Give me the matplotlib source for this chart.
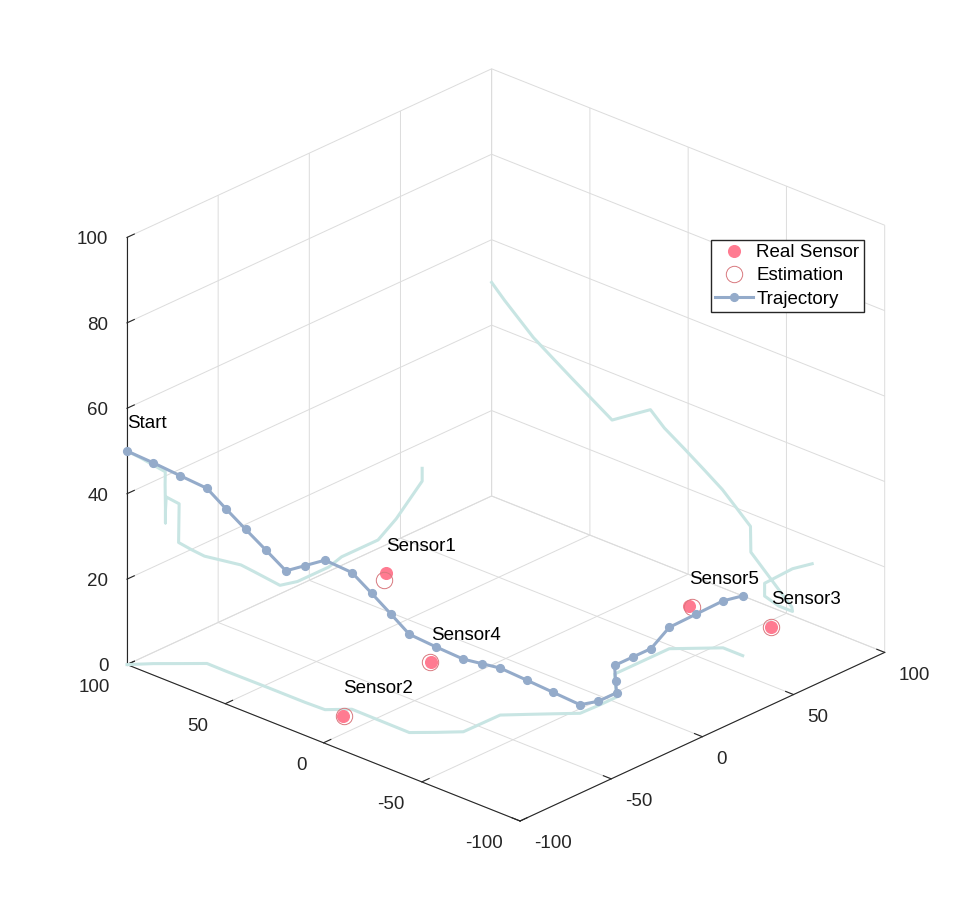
import numpy as np
import matplotlib
matplotlib.use("Agg")
import matplotlib.pyplot as plt
from mpl_toolkits.mplot3d import proj3d

# UAV trajectory
traj_x = [-100.0, -92.7, -85.9, -79.0, -79.1, -79.0, -78.9, -78.9, -78.9, -78.5,
          -71.4, -71.5, -71.6, -71.7, -64.8, -57.5, -47.5, -37.5, -30.3, -23.2,
          -16.1, -6.5, 3.5, 10.6, 17.7, 27.7, 37.7, 47.7, 54.8, 61.9, 61.9]
traj_y = [100.0, 93.4, 86.1, 78.8, 69.0, 59.1, 48.9, 38.7, 29.0, 19.2,
          12.1, 1.9, -7.9, -17.4, -24.6, -31.7, -31.8, -31.9, -38.8, -45.7,
          -52.7, -53.1, -53.1, -46.0, -38.9, -38.9, -38.9, -38.9, -46.0, -53.1, -63.1]
traj_z = [50, 47, 44, 41, 38, 35, 32, 29, 32, 35,
          32, 29, 26, 23, 20, 17, 14, 11, 8, 5,
          2, 1, 1, 1, 2, 2, 2, 5, 8, 11, 14]

sensor_names = ["Sensor1", "Sensor2", "Sensor3", "Sensor4", "Sensor5"]
real_x = [23.8, -78.2, 87.3, -21.5, 79.8]
real_y = [83.1, 10.4, -53.8, 18.1, -19.4]
real_z = [0, 0, 0, 0, 0]
est_x = [19.5, -78.0, 87.4, -21.3, 79.7]
est_y = [80.0, 10.0, -53.6, 18.6, -20.6]
est_z = [0, 0, 0, 0, 0]

xy_ticks = [-100, -50, 0, 50, 100]
z_ticks = [0, 20, 40, 60, 80, 100]

W, H = 977, 922
plt.rcParams.update({
    "font.family": ["Liberation Sans", "DejaVu Sans"],
    "font.size": 13.5,
    "axes.unicode_minus": False,
    "grid.color": "#dcdcdc",
    "grid.linewidth": 0.7,
    "axes.edgecolor": "#262626",
    "axes.linewidth": 0.8,
    "xtick.color": "#262626",
    "ytick.color": "#262626",
})

fig = plt.figure(figsize=(W / 100, H / 100), dpi=100)
ax = fig.add_axes([0.1, 0.08, 0.8, 0.8 * W / H], projection="3d", computed_zorder=False)
ax.set_proj_type("ortho")
ax.view_init(elev=25.4, azim=-137.15)
ax.set_box_aspect((1, 1, 0.882))

ax.set_xlim(-100, 100)
ax.set_ylim(-100, 100)
ax.set_zlim(0, 100)
ax.set_xticks(xy_ticks)
ax.set_yticks(xy_ticks)
ax.set_zticks(z_ticks)

for axis in (ax.xaxis, ax.yaxis, ax.zaxis):
    axis.set_pane_color((1, 1, 1, 0))
    axis._axinfo["tick"]["inward_factor"] = 0.0
    axis._axinfo["tick"]["outward_factor"] = 0.25
    axis.label.set_visible(False)
    axis.offsetText.set_visible(False)
ax.yaxis.set_tick_params(pad=7)
ax.zaxis.set_tick_params(pad=0)

shadow = "#c8e5e3"
tx, ty, tz = np.array(traj_x), np.array(traj_y), np.array(traj_z, float)
ax.plot(tx, np.full_like(tx, 100), tz, color=shadow, lw=2.2, zorder=1)
ax.plot(np.full_like(tx, 100), ty, tz, color=shadow, lw=2.2, zorder=1)
ax.plot(tx, ty, np.zeros_like(tz), color=shadow, lw=2.2, zorder=1)

ax.plot(real_x, real_y, real_z, ls="none", marker="o", ms=8.4,
        mfc="#ff7b91", mec="#ff7b91", label="Real Sensor", zorder=3)
ax.plot(est_x, est_y, est_z, ls="none", marker="o", ms=11.8,
        mfc="none", mec="#d8787e", mew=0.7, label="Estimation", zorder=3)
ax.plot(tx, ty, tz, "-o", color="#94abca", lw=2.2, ms=5.6, label="Trajectory", zorder=4)

ax.text(traj_x[0], traj_y[0], traj_z[0] + 6.4, "Start", ha="left", va="center", zorder=6)
for name, x, y, z in zip(sensor_names, real_x, real_y, real_z):
    ax.text(x, y, z + 6.4, name, ha="left", va="center", zorder=6)

ax.legend(loc="upper left", bbox_to_anchor=(711 / W, 1 - 240 / H),
          bbox_transform=fig.transFigure, borderaxespad=0, fancybox=False,
          edgecolor="#262626", framealpha=1, borderpad=0.22, labelspacing=0.32,
          handlelength=2.0, handletextpad=0.2)


# move the square axes so the box corners land where they sit in the picture
def corners_px():
    xs, ys, _ = proj3d.proj_transform(np.array([-100.0, 100.0]), np.array([100.0, -100.0]),
                                      np.array([0.0, 0.0]), ax.get_proj())
    return ax.transData.transform(np.column_stack([xs, ys]))


target = np.array([[127.0, H - 664.0], [884.7, H - 653.0]])
for _ in range(2):
    fig.canvas.draw()
    pts = corners_px()
    pos = ax.get_position()
    x0, y0, w, h = pos.x0 * W, pos.y0 * H, pos.width * W, pos.height * H
    k = (target[1, 0] - target[0, 0]) / (pts[1, 0] - pts[0, 0])
    nx0 = np.mean(target[:, 0] - k * (pts[:, 0] - x0))
    ny0 = np.mean(target[:, 1] - k * (pts[:, 1] - y0))
    ax.set_position([nx0 / W, ny0 / H, k * w / W, k * h / H])

plt.setp(ax.get_xticklabels(), ha="left", va="center_baseline")
plt.setp(ax.get_yticklabels(), ha="right", va="baseline")
plt.setp(ax.get_zticklabels(), ha="right", va="center_baseline")

fig.savefig("out.png", dpi=100)
